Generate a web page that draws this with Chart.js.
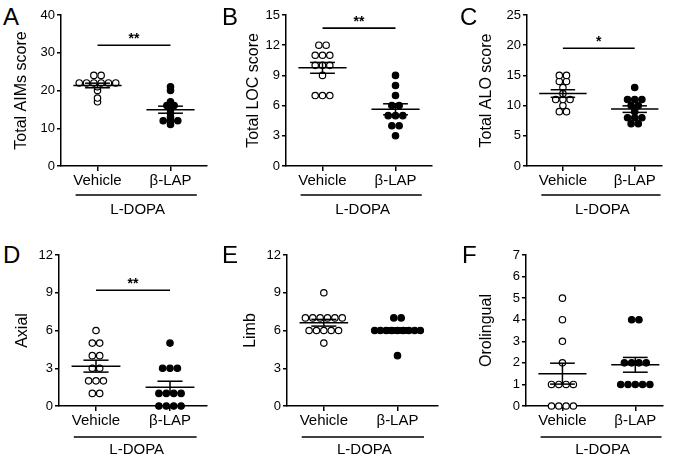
<!DOCTYPE html>
<html><head><meta charset="utf-8">
<script src="https://cdn.jsdelivr.net/npm/chart.js@4"></script>
<style>
body{margin:0;background:#fff;width:677px;height:459px;position:relative;overflow:hidden;font-family:"Liberation Sans",Arial,sans-serif}
canvas{position:absolute}
.lt{position:absolute;font-size:24px;line-height:24px;color:#000;font-family:"Liberation Sans",Arial,sans-serif}
</style></head><body>
<script>
// ---------- data ----------
const categories = ['Vehicle', 'β-LAP'];
const groupLabel = 'L-DOPA';
const panelLetters = ['A', 'B', 'C', 'D', 'E', 'F'];
const yTitles = ['Total AIMs score', 'Total LOC score', 'Total ALO score', 'Axial', 'Limb', 'Orolingual'];
const yMaxes = [40, 15, 25, 12, 12, 7];
const ySteps = [10, 3, 5, 3, 3, 1];
const sigStars = ['**', '**', '*', '**', null, null];
const sigLevels = [32, 13.7, 19.5, 9.2, null, null];

const aimsVehicle = [24, 24, 22, 22, 22, 22, 22, 22, 21, 20, 18, 17];
const aimsLap = [21, 20, 17, 16, 16, 15, 14, 13, 12, 12, 12, 11];
const locVehicle = [12, 12, 11, 11, 11, 10, 10, 10, 9, 7, 7, 7];
const locLap = [9, 8, 7, 6, 6, 5, 5, 5, 4, 4, 3];
const aloVehicle = [15, 15, 14, 14, 13, 12, 11, 11, 11, 10, 9, 9];
const aloLap = [13, 11, 11, 11, 10, 10, 9, 8, 8, 8, 7, 7];
const axialVehicle = [6, 5, 5, 4, 4, 3, 3, 2, 2, 2, 1, 1];
const axialLap = [5, 3, 3, 3, 1, 1, 1, 1, 0, 0, 0, 0];
const limbVehicle = [9, 7, 7, 7, 7, 7, 7, 6, 6, 6, 6, 6, 5];
const limbLap = [7, 7, 6, 6, 6, 6, 6, 6, 6, 6, 6, 4];
const oroVehicle = [5, 4, 3, 2, 1, 1, 1, 1, 0, 0, 0, 0];
const oroLap = [4, 4, 2, 2, 2, 2, 1, 1, 1, 1, 1];

const seriesVehicle = [aimsVehicle, locVehicle, aloVehicle, axialVehicle, limbVehicle, oroVehicle];
const seriesLap = [aimsLap, locLap, aloLap, axialLap, limbLap, oroLap];

// ---------- layout (positions only) ----------
const FONT = '"Liberation Sans", Arial, sans-serif';
const layouts = [
  {left: 0,   top: 0,   w: 225, h: 230, area: {l: 61, t: 15, r: 207, b: 166}, xMax: 2.5,  titleX: 22, letter: [3, 5]},
  {left: 225, top: 0,   w: 225, h: 230, area: {l: 61, t: 15, r: 207, b: 166}, xMax: 2.5,  titleX: 29, letter: [-3, 5]},
  {left: 450, top: 0,   w: 227, h: 230, area: {l: 77, t: 15, r: 212, b: 166}, xMax: 2.38, titleX: 37, letter: [10, 5]},
  {left: 0,   top: 230, w: 225, h: 229, area: {l: 59, t: 25, r: 207, b: 176}, xMax: 2.5,  titleX: 23, letter: [3, 13]},
  {left: 225, top: 230, w: 225, h: 229, area: {l: 62, t: 25, r: 213, b: 176}, xMax: 2.55, titleX: 26, letter: [-3, 13]},
  {left: 450, top: 230, w: 227, h: 229, area: {l: 76, t: 25, r: 213, b: 176}, xMax: 2.38, titleX: 37, letter: [12, 13]}
];

function mean(a) { return a.reduce((s, v) => s + v, 0) / a.length; }
function sem(a) {
  const m = mean(a);
  const sd = Math.sqrt(a.reduce((s, v) => s + (v - m) * (v - m), 0) / (a.length - 1));
  return sd / Math.sqrt(a.length);
}
// spread equal values side by side around the category centre
function spread(vals, cx) {
  const groups = {};
  vals.forEach(v => { (groups[v] = groups[v] || []).push(v); });
  const pts = [];
  Object.keys(groups).forEach(k => {
    const n = groups[k].length;
    const dx = n > 1 ? Math.min(0.1, 0.62 / (n - 1)) : 0;
    groups[k].forEach((v, i) => pts.push({x: cx + (i - (n - 1) / 2) * dx, y: v}));
  });
  return pts;
}

const annot = {
  id: 'annot',
  afterDraw(chart) {
    const o = chart.options.plugins.annot;
    const {ctx, chartArea} = chart;
    const x = chart.scales.x, y = chart.scales.y;
    ctx.save();
    ctx.strokeStyle = '#000';
    ctx.fillStyle = '#000';
    ctx.lineWidth = 1.6;
    if (o.sig != null) {
      const yp = y.getPixelForValue(o.sig);
      ctx.beginPath();
      ctx.moveTo(x.getPixelForValue(1), yp);
      ctx.lineTo(x.getPixelForValue(2), yp);
      ctx.stroke();
      ctx.font = 'bold 14px ' + FONT;
      ctx.textAlign = 'center';
      ctx.textBaseline = 'alphabetic';
      ctx.fillText(o.stars, x.getPixelForValue(1.5), yp - 2);
    }
    const yl = chartArea.bottom + o.lineOff;
    ctx.beginPath();
    ctx.moveTo(x.getPixelForValue(0.7), yl);
    ctx.lineTo(x.getPixelForValue(2.36), yl);
    ctx.stroke();
    ctx.font = '15px ' + FONT;
    ctx.textAlign = 'center';
    ctx.textBaseline = 'middle';
    ctx.fillText(groupLabel, x.getPixelForValue(1.55), chartArea.bottom + o.textOff);
    ctx.restore();
  }
};

layouts.forEach((p, i) => {
  const lt = document.createElement('div');
  lt.className = 'lt';
  lt.textContent = panelLetters[i];
  lt.style.left = (p.left + p.letter[0]) + 'px';
  lt.style.top = (p.top + p.letter[1]) + 'px';
  document.body.appendChild(lt);

  const cv = document.createElement('canvas');
  cv.width = p.w; cv.height = p.h;
  cv.style.left = p.left + 'px'; cv.style.top = p.top + 'px';
  cv.style.width = p.w + 'px'; cv.style.height = p.h + 'px';
  document.body.appendChild(cv);

  const lineDs = [];
  const pointDs = [];
  [seriesVehicle[i], seriesLap[i]].forEach((vals, gi) => {
    const cx = gi + 1;
    const m = mean(vals), se = sem(vals);
    const segs = [
      [[cx - 0.33, m], [cx + 0.33, m]],
      [[cx - 0.17, m + se], [cx + 0.17, m + se]],
      [[cx - 0.17, m - se], [cx + 0.17, m - se]],
      [[cx, m - se], [cx, m + se]]
    ];
    segs.forEach(s => lineDs.push({
      data: s.map(q => ({x: q[0], y: q[1]})),
      showLine: true, borderColor: '#000', borderWidth: 1.5,
      pointRadius: 0, clip: false
    }));
    pointDs.push({
      data: spread(vals, cx),
      pointStyle: 'circle', pointRadius: 3.2, pointBorderWidth: 1.2,
      pointBackgroundColor: gi ? '#000' : '#fff', pointBorderColor: '#000',
      pointHoverRadius: 3.2, showLine: false, clip: false
    });
  });

  new Chart(cv, {
    type: 'scatter',
    data: {datasets: lineDs.concat(pointDs)},
    options: {
      responsive: false, animation: false, devicePixelRatio: 1,
      events: [],
      layout: {autoPadding: false, padding: {left: 0, top: p.area.t, right: p.w - p.area.r, bottom: 0}},
      plugins: {
        legend: {display: false}, tooltip: {enabled: false},
        annot: {sig: sigLevels[i], stars: sigStars[i], lineOff: i < 3 ? 29 : 31, textOff: i < 3 ? 44 : 44}
      },
      scales: {
        x: {
          type: 'linear', min: 0.5, max: p.xMax,
          afterFit(s) { s.height = p.h - p.area.b; },
          afterBuildTicks(s) { s.ticks = [{value: 1}, {value: 2}]; },
          ticks: {callback: v => categories[v - 1] || '', color: '#000', font: {size: 15, family: FONT}, padding: 1, maxRotation: 0, autoSkip: false},
          grid: {drawOnChartArea: false, drawTicks: true, tickLength: 5, color: '#000', lineWidth: 1.5},
          border: {color: '#000', width: 1.5}
        },
        y: {
          min: 0, max: yMaxes[i],
          afterFit(s) { s.width = p.area.l; },
          ticks: {stepSize: ySteps[i], color: '#000', font: {size: 13, family: FONT}, padding: 2},
          grid: {drawOnChartArea: false, drawTicks: true, tickLength: 4, color: '#000', lineWidth: 1.5},
          border: {color: '#000', width: 1.5},
          title: {display: true, text: yTitles[i], color: '#000', font: {size: 16, family: FONT}, padding: {top: p.titleX - 9.6, bottom: 0}}
        }
      }
    },
    plugins: [annot]
  });
});
</script>
</body></html>
